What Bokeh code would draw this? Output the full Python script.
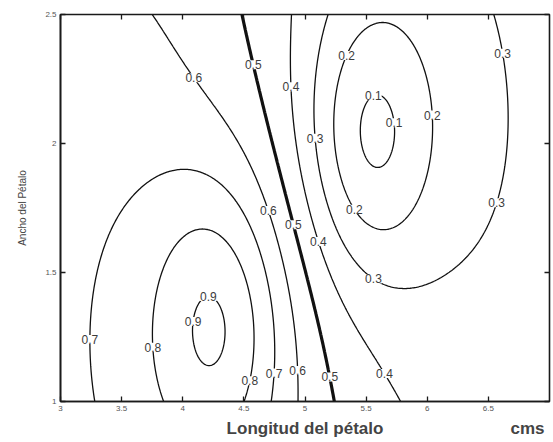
import numpy as np
import contourpy
from bokeh.plotting import figure
from bokeh.models import ColumnDataSource, FixedTicker, LinearAxis, Label, Range1d
from bokeh.embed import file_html
from bokeh.resources import INLINE

# Traced contour points (petal length cm, petal width cm) for each level
trace_level = {
    0.9: [(4.072, 1.341), (4.407, 1.353), (4.227, 1.488), (4.243, 1.151)],
    0.8: [(3.777, 1.380), (4.538, 1.353), (4.170, 1.667), (3.924, 1.597), (4.415, 1.585),
          (3.875, 1.000), (4.407, 1.000), (4.513, 1.171)],
    0.7: [(3.229, 1.430), (3.221, 1.275), (3.344, 1.000), (3.327, 1.624), (3.409, 1.740),
          (3.982, 1.950), (4.554, 1.713), (4.726, 1.275), (4.726, 1.000)],
    0.6: [(3.597, 2.500), (4.022, 2.322), (4.170, 2.217), (4.415, 2.012), (4.677, 1.779),
          (4.963, 1.275), (4.963, 1.186), (5.020, 1.000)],
    0.5: [(4.464, 2.500), (4.554, 2.341), (4.579, 2.244), (4.800, 1.907), (4.922, 1.624),
          (5.045, 1.403), (5.192, 1.147), (5.249, 1.000)],
    0.4: [(4.840, 2.500), (4.881, 2.194), (4.906, 1.973), (5.045, 1.674), (5.127, 1.558),
          (5.315, 1.403), (5.397, 1.314), (5.593, 1.159), (5.765, 1.000)],
    0.3: [(5.274, 2.500), (5.192, 2.372), (5.143, 2.167), (5.127, 2.012), (5.209, 1.806),
          (5.348, 1.585), (5.479, 1.508), (5.699, 1.442), (5.806, 1.419), (6.108, 1.481),
          (6.436, 1.663), (6.542, 1.829), (6.599, 2.039), (6.599, 2.295), (6.542, 2.500)],
    0.2: [(5.642, 2.477), (5.266, 2.295), (5.249, 2.039), (5.372, 1.791), (5.536, 1.702),
          (5.675, 1.694), (5.945, 1.806), (6.002, 1.973), (6.043, 2.167), (6.002, 2.295)],
    0.1: [(5.397, 2.039), (5.740, 1.984), (5.560, 1.876), (5.675, 2.167), (5.429, 1.973),
          (5.724, 1.922), (5.536, 2.178)],
}
# How firmly each level's trace is held by the fit
trace_weight = {0.1: 1.0, 0.2: 1.0, 0.3: 1.0, 0.4: 1.6, 0.5: 3.0, 0.6: 1.6,
                0.7: 1.0, 0.8: 1.0, 0.9: 1.0}

# Extreme values and values along the edges of the surface
spot_x = [4.24, 5.57, 3.0, 3.0, 3.0, 3.0, 3.3, 7.0, 7.0, 7.0, 6.6, 7.0]
spot_y = [1.32, 2.03, 1.0, 1.6, 2.2, 2.5, 2.5, 1.0, 1.75, 2.5, 1.0, 1.3]
spot_value = [0.93, 0.07, 0.655, 0.66, 0.64, 0.625, 0.615, 0.34, 0.34, 0.36, 0.35, 0.335]
spot_weight = [0.6, 0.6, 1.5, 1.5, 1.5, 2.0, 2.0, 1.0, 1.0, 1.5, 1.0, 1.0]

levels = [0.1, 0.2, 0.3, 0.4, 0.5, 0.6, 0.7, 0.8, 0.9]
x_ticks = [3, 3.5, 4, 4.5, 5, 5.5, 6, 6.5]
y_ticks = [1, 1.5, 2, 2.5]

# Contour labels: level shown and the place along the curve it sits near
label_level = [0.9, 0.9, 0.8, 0.8, 0.7, 0.7, 0.6, 0.6, 0.6, 0.5, 0.5, 0.5,
               0.4, 0.4, 0.4, 0.3, 0.3, 0.3, 0.3, 0.2, 0.2, 0.2, 0.1, 0.1]
label_near_x = [4.20, 4.10, 3.82, 4.45, 3.21, 4.76, 4.13, 4.65, 4.94, 4.51, 4.88, 5.23,
                4.84, 5.11, 5.66, 5.08, 5.55, 6.60, 6.49, 5.35, 5.39, 6.05, 5.54, 5.72]
label_near_y = [1.48, 1.31, 1.21, 1.09, 1.24, 1.11, 2.27, 1.73, 1.12, 2.30, 1.68, 1.10,
                2.22, 1.62, 1.11, 2.02, 1.47, 2.35, 1.78, 2.34, 1.74, 2.11, 2.20, 2.08]

W, H = 553, 442
B_LEFT, B_RIGHT, B_TOP, B_BOTTOM = 60, 4, 14, 41
X_LO, X_HI, Y_LO, Y_HI = 3.0, 7.0, 1.0, 2.5

# ---- smooth surface: plane + narrow and broad radial bumps at two centres ----
px = np.array([p[0] for lv in levels for p in trace_level[lv]] + spot_x)
py = np.array([p[1] for lv in levels for p in trace_level[lv]] + spot_y)
pv = np.array([lv for lv in levels for _ in trace_level[lv]] + spot_value)
pw = np.array([trace_weight[lv] for lv in levels for _ in trace_level[lv]] + spot_weight)


def basis(x, y, prm):
    c1x, c1y, c2x, c2y, s1n, s1b, s2n, s2b = prm
    r1 = (x - c1x) ** 2 + (y - c1y) ** 2
    r2 = (x - c2x) ** 2 + (y - c2y) ** 2
    return [np.ones_like(x), x - 5.0, y - 1.75,
            np.exp(-r1 / (2 * s1n ** 2)), np.exp(-r1 / (2 * s1b ** 2)),
            np.exp(-r2 / (2 * s2n ** 2)), np.exp(-r2 / (2 * s2b ** 2))]


def solve(prm):
    A = np.column_stack(basis(px, py, prm))
    coef, *_ = np.linalg.lstsq(A * pw[:, None], pv * pw, rcond=None)
    err = float(np.sum(((A @ coef) - pv) ** 2 * pw ** 2))
    return err, coef


prm = np.array([4.24, 1.32, 5.57, 2.04, 0.33, 1.0, 0.33, 1.0])
step = np.array([0.05, 0.05, 0.05, 0.05, 0.04, 0.15, 0.04, 0.15])
lo = np.array([3.8, 1.0, 5.2, 1.7, 0.15, 0.5, 0.15, 0.5])
hi = np.array([4.6, 1.6, 5.9, 2.3, 0.5, 1.8, 0.5, 1.8])
best, coef = solve(prm)
for _ in range(80):
    improved = False
    for k in range(len(prm)):
        for d in (-1.0, 1.0):
            trial = prm.copy()
            trial[k] = np.clip(trial[k] + d * step[k], lo[k], hi[k])
            e, c = solve(trial)
            if e < best - 1e-12:
                best, coef, prm = e, c, trial
                improved = True
    if not improved:
        step = step * 0.5
        if step.max() < 1e-3:
            break

xs = np.linspace(X_LO, X_HI, 401)
ys = np.linspace(Y_LO, Y_HI, 301)
gx, gy = np.meshgrid(xs, ys)
z = sum(c * b for c, b in zip(coef, basis(gx, gy, prm)))

gen = contourpy.contour_generator(xs, ys, z)
paths = {}
line_xs, line_ys, line_w = [], [], []
for lv in levels:
    segs = [s for s in gen.lines(lv) if len(s) > 1]
    paths[lv] = segs
    for seg in segs:
        line_xs.append(seg[:, 0].tolist())
        line_ys.append(seg[:, 1].tolist())
        line_w.append(3.2 if abs(lv - 0.5) < 1e-9 else 1.3)

p = figure(width=W, height=H, x_range=Range1d(X_LO, X_HI), y_range=Range1d(Y_LO, Y_HI),
           output_backend="svg", toolbar_location=None,
           min_border_left=B_LEFT, min_border_right=B_RIGHT,
           min_border_top=B_TOP, min_border_bottom=B_BOTTOM,
           y_axis_label="Ancho del Pétalo")
p.grid.visible = False
p.background_fill_color = "white"
p.border_fill_color = "white"
p.outline_line_color = "#1a1a1a"
p.outline_line_width = 1.6

p.multi_line(xs="xs", ys="ys", line_width="w", line_color="#111111",
             source=ColumnDataSource(dict(xs=line_xs, ys=line_ys, w=line_w)))

# Labels sit on their own curve, at the vertex closest to where they belong
px_x = (W - B_LEFT - B_RIGHT) / (X_HI - X_LO)
px_y = (H - B_TOP - B_BOTTOM) / (Y_HI - Y_LO)
for lv, hx, hy in zip(label_level, label_near_x, label_near_y):
    pts = np.vstack(paths[lv])
    d = ((pts[:, 0] - hx) * px_x) ** 2 + ((pts[:, 1] - hy) * px_y) ** 2
    i = int(np.argmin(d))
    p.add_layout(Label(x=float(pts[i, 0]), y=float(pts[i, 1]), text=f"{lv:.1f}",
                       text_align="center", text_baseline="middle",
                       text_font="Liberation Sans", text_font_size="12px",
                       text_color="#3c3c3c", background_fill_color="white",
                       background_fill_alpha=1.0))

tick_font = "Liberation Sans"
for ax, ticks in ((p.xaxis[0], x_ticks), (p.yaxis[0], y_ticks)):
    ax.ticker = FixedTicker(ticks=ticks, minor_ticks=[])
    ax.major_tick_in = 5
    ax.major_tick_out = 0
    ax.minor_tick_in = 0
    ax.minor_tick_out = 0
    ax.axis_line_color = "#1a1a1a"
    ax.axis_line_width = 1.6
    ax.major_tick_line_color = "#1a1a1a"
    ax.major_tick_line_width = 1.3
    ax.major_label_text_font = tick_font
    ax.major_label_text_font_size = "8px"
    ax.major_label_text_color = "#555555"
    ax.major_label_standoff = 4

p.yaxis[0].axis_label_text_font = tick_font
p.yaxis[0].axis_label_text_color = "#444444"
p.yaxis[0].axis_label_text_font_size = "10px"
p.yaxis[0].axis_label_text_font_style = "normal"
p.yaxis[0].axis_label_standoff = 14

# Axis title and unit as a label row under the tick labels
title_at = [(X_LO + X_HI) / 2, X_HI - 22 / px_x]
title_row = LinearAxis(ticker=FixedTicker(ticks=title_at, minor_ticks=[]),
                       major_label_overrides={title_at[0]: "Longitud del pétalo",
                                              title_at[1]: "cms"},
                       major_tick_in=0, major_tick_out=0, minor_tick_in=0, minor_tick_out=0,
                       axis_line_color=None, major_label_standoff=5,
                       major_label_text_font=tick_font, major_label_text_font_size="17px",
                       major_label_text_font_style="bold", major_label_text_color="#444444")
p.add_layout(title_row, "below")

# Mirrored inward ticks on the top and right edges
for side, ticks in (("above", x_ticks), ("right", y_ticks)):
    ax = LinearAxis(ticker=FixedTicker(ticks=ticks, minor_ticks=[]),
                    major_label_overrides={t: "" for t in ticks},
                    major_tick_in=5, major_tick_out=0, minor_tick_in=0, minor_tick_out=0,
                    major_label_standoff=0, axis_line_color=None,
                    major_tick_line_color="#1a1a1a", major_tick_line_width=1.3,
                    major_label_text_font_size="1px")
    p.add_layout(ax, side)

open("out.html", "w").write(file_html(p, INLINE))
